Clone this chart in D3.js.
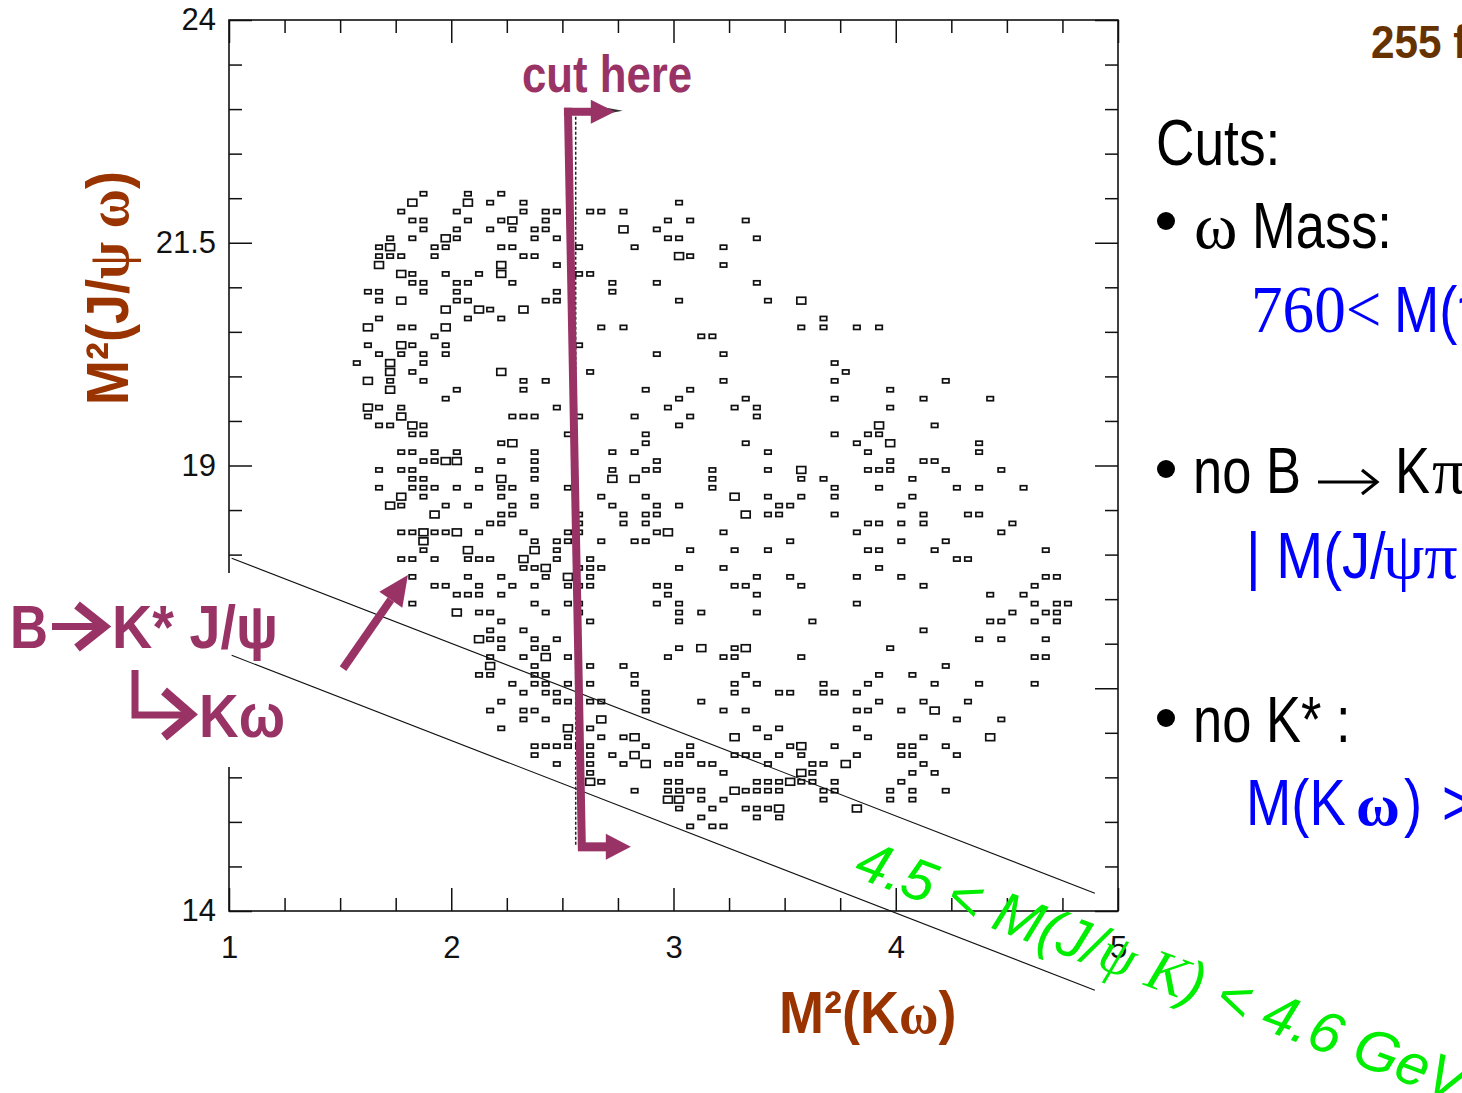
<!DOCTYPE html>
<html>
<head>
<meta charset="utf-8">
<script src="https://cdn.jsdelivr.net/npm/d3@7"></script>
<style>
  html, body { margin: 0; padding: 0; background: #fff; overflow: hidden; }
  svg { display: block; }
</style>
</head>
<body>
<svg id="chart" width="1462" height="1093"></svg>
<script>
// ---- Histogram definition --------------------------------------------
const kwRange = [1, 5];      // M²(Kω) in GeV², 80 bins
const kwBins = 80;
const jwRange = [14, 24];    // M²(J/ψω) in GeV², 100 bins
const jwBins = 100;

// Filled bins. One string per M²(J/ψω) bin, starting at bin 80 and going down;
// each entry is the M²(Kω) bin index, a trailing "*" marks a bin with 2 entries.
const topBin = 80;
const cellRows = [
  "17 21 24",
  "16* 21* 23 26 40",
  "15 20 26 28 29 32 33 35",
  "16 17 21 24 25* 28 39 41 46",
  "17 20 23 25 27 28 35* 38",
  "14 16 19* 20 27 29 39 40 47",
  "13 14* 18 19 24 25 31 36 44",
  "13 14 15 18 26 27 40* 41",
  "13* 24* 29 44",
  "15* 16 19 22 24* 31 32",
  "16 17 20 21 25 34 38 47",
  "12 13 17 20 29 34",
  "13 15* 20 21 28 29 40 48 51*",
  "19* 22* 23 26*",
  "13 21 24 53",
  "12* 15 16 19* 33 35 51 53 56 58",
  "18 42 43",
  "12 15* 16 19 31",
  "13 15 17 19 38 44",
  "11 14* 17 54",
  "14* 16 24* 32 55",
  "12* 14 17 26 28 44 54 64",
  "14* 20 26 37 41 59",
  "19 40 46 54 62 68",
  "12* 13 15 29 39 45 47 59",
  "12 15* 25 26 27 31 36 41 47",
  "13 14 16* 17 40 58* 63",
  "16 17 30 37 54 57 58",
  "24 25* 37 46 56 59* 67",
  "15 16 18 20 27 34 36 48 57 67",
  "17 18 19* 20* 24 27 38 59 62 63",
  "13 15 16 22 27 34 37 38 43 48 51* 57 58 59 64 69",
  "16 17 24* 27 34* 36* 43 51 53 61",
  "13 16 17 18 20 22 24 25 30 43 54 58 65 67 71",
  "15* 17 24 27 33 37 45* 48 51 54 61",
  "14* 15 19 21 25 27 34 38 40 49 50 60",
  "18* 24 25 31 35 37 38 46* 48 49 54 62 66 67",
  "23 24 31 35 37 57 58 60 62 70",
  "15 16 17* 18 19 20* 22 26 30 31 38 39* 44 56 69",
  "17* 27 29 30 33 36 37 50 60 64",
  "17 21* 27* 29 41 45 48 57 58 63 73",
  "15 16 18 21 22 23 26* 29 32 65 66",
  "26 27 28* 31 32 33 40 44 58",
  "16 21 24 28 30* 32 47 50 56 60 73 74",
  "18 19 22 25 27 30 31 32 38 39 45 46 51 62 72",
  "20 21 22 24 39 47 68 71",
  "16 27 30 31 38 40 56 72 74 75",
  "20* 22 23 28 31 40 42 47 70 73 74",
  "24 32 40 52 68 69 72 74",
  "23 26 62",
  "22* 23 24 27 29 67 69 73",
  "24 27 28 40 42* 45 46* 59",
  "23 26 28* 30 39 44 45 51 72 73",
  "23* 27 32 35 64",
  "22 23 27 28 36 46 58 61",
  "25 27 28 30 32 36 45 47 53 57 63 67 72",
  "26 28 29 37 45 49 50 53 54 56",
  "24 29 30 32 33 37 42 58 62 66",
  "23 26 27 37 44 46 56 57 60 63*",
  "26 28 33* 65 69",
  "24 30* 32 47 49 56",
  "30 33 35 36* 45* 48 57 62 68*",
  "27 28 29 30 31 32 37 41 50 51* 54 60 61 64",
  "27 32 34 36* 40 41 45 46 47 49 51 56 60 61 65",
  "29 32 35 37* 39 40 42 43 48 52 53 55* 62",
  "32 44 51* 52 61 63",
  "32* 33 39 40 47 48 49 50* 51 52 54 60",
  "36 39 40 41 42 45* 46 47 48 49 53 54 59 61 64",
  "39* 40* 42 44 53 59 61",
  "40 43 46 47 48 49* 56*",
  "42 47 49",
  "41 43 44"
];

// ---- Axis ticks ---------------------------------------------------------
const xMajorTicks = [1, 2, 3, 4, 5];
const xMinorStep = 0.25;
const yMajorTicks = [14, 16.5, 19, 21.5, 24];
const yTickLabels = ["14", "", "19", "21.5", "24"];   // 16.5 sits under the decay label box
const yMinorStep = 0.5;

// ---- Overlays (data units) ---------------------------------------------
// kinematic band boundaries M(J/ψK) = 4.5 and 4.6 GeV : [x1, y1, x2, y2]
const bandLines = [
  [1.012, 17.96, 4.896, 14.20],
  [1.012, 16.87, 4.896, 13.11]
];
const cutKw = 2.56;                     // M(Kω) > 1.6 GeV
const cutSpan = [22.97, 14.72];         // vertical extent of the cut marker
const cutBarX = [2.525, 2.588];         // drawn cut bar, top and bottom
const cutArrowTip = [2.736, 2.808];     // arrow tips, top and bottom
const kstarArrow = [[1.513, 16.72], [1.805, 17.77]];

// ---- Scene ---------------------------------------------------------------
const W = 1462, H = 1093;
const plot = { left: 229, right: 1118, top: 20, bottom: 911 };
const sans = "'Liberation Sans', Arial, Helvetica, sans-serif";
const serif = "'Liberation Serif', 'Times New Roman', serif";
const magenta = "#993366";
const brown = "#993300";
const darkBrown = "#663300";
const blue = "#0000ff";
const green = "#00ee00";

const svg = d3.select("#chart");
svg.append("rect").attr("width", W).attr("height", H).attr("fill", "#fff");

const x = d3.scaleLinear().domain(kwRange).range([plot.left, plot.right]);
const y = d3.scaleLinear().domain(jwRange).range([plot.bottom, plot.top]);

const kwStep = (kwRange[1] - kwRange[0]) / kwBins;
const jwStep = (jwRange[1] - jwRange[0]) / jwBins;

// flatten the bin table
const cells = [];
cellRows.forEach((row, i) => {
  const jb = topBin - i;
  row.trim().split(/\s+/).forEach(tok => {
    const n = tok.endsWith("*") ? 2 : 1;
    const kb = parseInt(tok, 10);
    cells.push({
      kw: kwRange[0] + (kb + 0.5) * kwStep,
      jw: jwRange[0] + (jb + 0.5) * jwStep,
      n
    });
  });
});

// box size grows with bin content
const cellW = x(kwRange[0] + kwStep) - x(kwRange[0]);
const cellH = y(jwRange[0]) - y(jwRange[0] + jwStep);
const wFrac = d3.scaleLinear().domain([1, 2]).range([0.58, 0.8]);
const hFrac = d3.scaleLinear().domain([1, 2]).range([0.46, 0.76]);

svg.append("g").attr("class", "boxes")
  .selectAll("rect").data(cells).join("rect")
  .attr("x", d => x(d.kw) - cellW * wFrac(d.n) / 2)
  .attr("y", d => y(d.jw) - cellH * hFrac(d.n) / 2)
  .attr("width", d => cellW * wFrac(d.n))
  .attr("height", d => cellH * hFrac(d.n))
  .attr("fill", "none")
  .attr("stroke", "#111")
  .attr("stroke-width", 1.7);

// ---- Axes (ROOT style: ticks inside, on all four sides) -----------------
const xMinor = d3.range(kwRange[0], kwRange[1] + 1e-9, xMinorStep).filter(v => !xMajorTicks.includes(v));
const yMinor = d3.range(jwRange[0], jwRange[1] + 1e-9, yMinorStep).filter(v => !yMajorTicks.includes(v));

function styleAxis(g) {
  g.select(".domain").remove();
  g.selectAll(".tick line").attr("stroke", "#111").attr("stroke-width", 1.5);
  g.selectAll(".tick text").attr("font-family", sans).attr("font-size", 31).attr("fill", "#111");
}

svg.append("g").attr("transform", `translate(0,${plot.bottom})`)
  .call(d3.axisBottom(x).tickValues(xMajorTicks).tickSize(-23).tickPadding(25).tickFormat(d3.format("d")))
  .call(styleAxis);
svg.append("g").attr("transform", `translate(0,${plot.bottom})`)
  .call(d3.axisBottom(x).tickValues(xMinor).tickSize(-13).tickFormat(""))
  .call(styleAxis);
svg.append("g").attr("transform", `translate(0,${plot.top})`)
  .call(d3.axisTop(x).tickValues(xMajorTicks).tickSize(-23).tickFormat(""))
  .call(styleAxis);
svg.append("g").attr("transform", `translate(0,${plot.top})`)
  .call(d3.axisTop(x).tickValues(xMinor).tickSize(-13).tickFormat(""))
  .call(styleAxis);

svg.append("g").attr("transform", `translate(${plot.left},0)`)
  .call(d3.axisLeft(y).tickValues(yMajorTicks).tickSize(-23).tickPadding(13)
    .tickFormat((d, i) => yTickLabels[i]))
  .call(styleAxis);
svg.append("g").attr("transform", `translate(${plot.left},0)`)
  .call(d3.axisLeft(y).tickValues(yMinor).tickSize(-13).tickFormat(""))
  .call(styleAxis);
svg.append("g").attr("transform", `translate(${plot.right},0)`)
  .call(d3.axisRight(y).tickValues(yMajorTicks).tickSize(-23).tickFormat(""))
  .call(styleAxis);
svg.append("g").attr("transform", `translate(${plot.right},0)`)
  .call(d3.axisRight(y).tickValues(yMinor).tickSize(-13).tickFormat(""))
  .call(styleAxis);

svg.append("rect")
  .attr("x", plot.left).attr("y", plot.top)
  .attr("width", plot.right - plot.left).attr("height", plot.bottom - plot.top)
  .attr("fill", "none").attr("stroke", "#111").attr("stroke-width", 1.6);

// ---- Text helper -----------------------------------------------------------
function label(parent, o) {
  const g = parent.append("g")
    .attr("transform", `translate(${o.x},${o.y}) rotate(${o.rot || 0}) scale(${o.sx || 1},1)`);
  const t = g.append("text")
    .attr("font-family", o.fam || sans)
    .attr("font-size", o.size)
    .attr("font-weight", o.weight || "normal")
    .attr("font-style", o.style || "normal")
    .attr("fill", o.fill || "#000")
    .attr("text-anchor", o.anchor || "start");
  const parts = Array.isArray(o.s) ? o.s : [[o.s]];
  parts.forEach(([str, attrs]) => {
    const ts = t.append("tspan").text(str);
    if (attrs) Object.entries(attrs).forEach(([k, v]) => ts.attr(k, v));
  });
  if (o.len) t.attr("textLength", o.len).attr("lengthAdjust", "spacingAndGlyphs");
  return t;
}

const ann = svg.append("g").attr("class", "annotations");

// white text box of the decay label (covers part of the left axis)
ann.append("rect").attr("x", 0).attr("y", 573).attr("width", 290).attr("height", 194).attr("fill", "#fff");

// kinematic band lines
ann.selectAll("line.band").data(bandLines).join("line")
  .attr("class", "band")
  .attr("x1", d => x(d[0])).attr("y1", d => y(d[1]))
  .attr("x2", d => x(d[2])).attr("y2", d => y(d[3]))
  .attr("stroke", "#111").attr("stroke-width", 1.1);

// dotted cut line
const cx = x(cutKw);
ann.append("line")
  .attr("x1", cx).attr("x2", cx)
  .attr("y1", y(cutSpan[0])).attr("y2", y(cutSpan[1]))
  .attr("stroke", "#222").attr("stroke-width", 1.5).attr("stroke-dasharray", "3,2");
ann.append("path")
  .attr("d", `M${x(cutArrowTip[0]) - 14},${y(cutSpan[0]) - 5} L${x(cutArrowTip[0]) + 8},${y(cutSpan[0]) - 1} L${x(cutArrowTip[0]) - 14},${y(cutSpan[0]) + 3}Z`)
  .attr("fill", "#333");

// magenta cut marker
const tX = x(cutBarX[0]), bX = x(cutBarX[1]);
const tY = y(cutSpan[0]), bY = y(cutSpan[1]);
ann.append("line").attr("x1", tX).attr("y1", tY - 4).attr("x2", bX).attr("y2", bY + 4)
  .attr("stroke", magenta).attr("stroke-width", 8);
ann.append("line").attr("x1", tX - 4).attr("y1", tY).attr("x2", x(cutArrowTip[0]) - 20).attr("y2", tY)
  .attr("stroke", magenta).attr("stroke-width", 8);
ann.append("path")
  .attr("d", `M${x(cutArrowTip[0]) - 24},${tY - 12} L${x(cutArrowTip[0])},${tY} L${x(cutArrowTip[0]) - 24},${tY + 12}Z`)
  .attr("fill", magenta);
ann.append("line").attr("x1", bX - 4).attr("y1", bY).attr("x2", x(cutArrowTip[1]) - 22).attr("y2", bY)
  .attr("stroke", magenta).attr("stroke-width", 9);
ann.append("path")
  .attr("d", `M${x(cutArrowTip[1]) - 25},${bY - 13} L${x(cutArrowTip[1])},${bY} L${x(cutArrowTip[1]) - 25},${bY + 13}Z`)
  .attr("fill", magenta);

label(ann, { x: 522, y: 92, s: "cut here", size: 52, weight: "bold", fill: magenta, len: 170 });

// arrow from the K* label into the plot
{
  const [p0, p1] = kstarArrow.map(p => [x(p[0]), y(p[1])]);
  const ang = Math.atan2(p1[1] - p0[1], p1[0] - p0[0]);
  const hl = 30, hw = 14;
  const bx = p1[0] - hl * Math.cos(ang), by = p1[1] - hl * Math.sin(ang);
  ann.append("line").attr("x1", p0[0]).attr("y1", p0[1]).attr("x2", bx).attr("y2", by)
    .attr("stroke", magenta).attr("stroke-width", 8);
  ann.append("path")
    .attr("d", `M${p1[0]},${p1[1]} L${bx + hw * Math.sin(ang)},${by - hw * Math.cos(ang)} L${bx - hw * Math.sin(ang)},${by + hw * Math.cos(ang)}Z`)
    .attr("fill", magenta);
}

// decay label B→K* J/ψ, K*→Kω
label(ann, { x: 10, y: 648, s: "B", size: 62, weight: "bold", fill: magenta, len: 38 });
ann.append("path").attr("d", "M52,626.5 H100").attr("stroke", magenta).attr("stroke-width", 7).attr("fill", "none");
ann.append("path").attr("d", "M77,605 L104,626.5 L77,648").attr("stroke", magenta).attr("stroke-width", 9)
  .attr("fill", "none").attr("stroke-linejoin", "miter");
label(ann, { x: 112, y: 648, s: "K* J/ψ", size: 62, weight: "bold", fill: magenta, len: 166 });
ann.append("path").attr("d", "M135,670 V715 H186").attr("stroke", magenta).attr("stroke-width", 7).attr("fill", "none");
ann.append("path").attr("d", "M164,691 L191,714.5 L164,737").attr("stroke", magenta).attr("stroke-width", 9)
  .attr("fill", "none").attr("stroke-linejoin", "miter");
label(ann, { x: 199, y: 737, s: "Kω", size: 62, weight: "bold", fill: magenta, len: 86 });

// band label
label(ann, {
  x: 852, y: 876, rot: 20.5, size: 58, style: "italic", fill: green,
  s: [["4.5 < M(J/"], ["ψ K", { "font-family": serif }], [") < 4.6 GeV"]]
});

// axis titles
label(ann, {
  x: 779, y: 1033, size: 60, weight: "bold", fill: brown, sx: 0.9,
  s: [["M²(K"], ["ω", { "font-family": serif }], [")"]]
});
label(ann, {
  x: 128, y: 405, rot: -90, size: 60, weight: "bold", fill: brown, sx: 0.9,
  s: [["M²(J/"], ["ψ ω", { "font-family": serif }], [")"]]
});

// ---- Selection notes on the right -----------------------------------------
label(ann, { x: 1371, y: 58, s: [["255 fb"], ["-1", { "font-size": 28, dy: -18 }]], size: 46, weight: "bold", fill: darkBrown, sx: 0.92 });
label(ann, { x: 1156, y: 165, s: "Cuts:", size: 65, sx: 0.82 });

const bullets = [221, 469, 718];
ann.selectAll("circle.bullet").data(bullets).join("circle")
  .attr("class", "bullet").attr("cx", 1166).attr("cy", d => d).attr("r", 9).attr("fill", "#000");

label(ann, { x: 1194, y: 248, s: "ω", size: 66, fam: serif });
label(ann, { x: 1252, y: 248, s: "Mass:", size: 64, sx: 0.82 });
label(ann, { x: 1251, y: 332, s: "760<", size: 68, fam: serif, fill: blue, sx: 0.93 });
label(ann, { x: 1394, y: 332, s: "M(π", size: 64, fill: blue, sx: 0.85 });

label(ann, { x: 1193, y: 493, s: "no B", size: 64, sx: 0.82 });
// decay arrow of the B → Kπ veto
ann.append("path").attr("d", "M1318,482 H1375").attr("stroke", "#000").attr("stroke-width", 3.2).attr("fill", "none");
ann.append("path").attr("d", "M1362,470 L1377,482 L1362,494").attr("stroke", "#000").attr("stroke-width", 3.2)
  .attr("fill", "none").attr("stroke-linejoin", "miter");
label(ann, { x: 1395, y: 493, s: "K", size: 64, sx: 0.82 });
label(ann, { x: 1432, y: 493, s: "π", size: 66, fam: serif });

label(ann, { x: 1246, y: 578, s: "| M(J/", size: 64, fill: blue, sx: 0.88 });
label(ann, { x: 1383, y: 578, s: "ψπ", size: 66, fam: serif, fill: blue });

label(ann, { x: 1193, y: 742, s: "no K* :", size: 64, sx: 0.82 });
label(ann, { x: 1246, y: 825, s: "M(K", size: 64, fill: blue, sx: 0.85 });
label(ann, { x: 1356, y: 825, s: "ω", size: 60, fam: serif, weight: "bold", fill: blue });
label(ann, { x: 1404, y: 825, s: ")", size: 64, fill: blue, sx: 0.85 });
label(ann, { x: 1442, y: 825, s: "> 1.6 GeV", size: 64, fill: blue, sx: 0.85 });
</script>
</body>
</html>
